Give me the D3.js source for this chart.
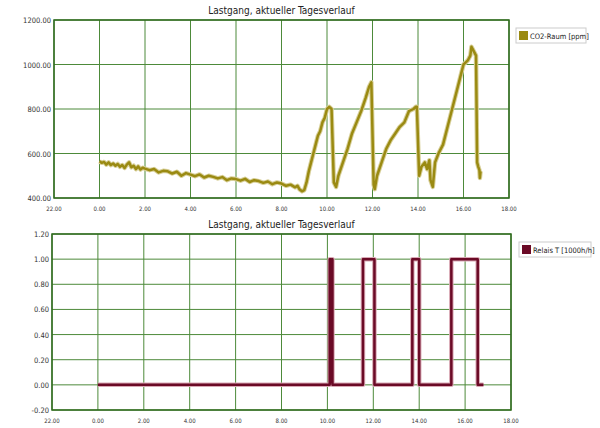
<!DOCTYPE html>
<html><head><meta charset="utf-8">
<script src="https://cdn.jsdelivr.net/npm/d3@7"></script>
<style>body{margin:0;background:#fff}text{font-family:"DejaVu Sans Condensed","Liberation Sans Narrow",sans-serif}</style>
</head><body><svg id="c" width="600" height="428"></svg>
<script>
const title = "Lastgang, aktueller Tagesverlauf";
const xTicks = [-2,0,2,4,6,8,10,12,14,16,18];
const xTickLabels = ["22.00","0.00","2.00","4.00","6.00","8.00","10.00","12.00","14.00","16.00","18.00"];
const co2Ticks = [400,600,800,1000,1200];
const relTicks = [-0.2,0,0.2,0.4,0.6,0.8,1.0,1.2];
const co2Name = "CO2-Raum [ppm]";
const relName = "Relais T [1000h/h]";
const co2Time = [0,0.1,0.2,0.3,0.4,0.5,0.6,0.7,0.8,0.9,1.0,1.1,1.2,1.3,1.4,1.5,1.6,1.7,1.8,1.9,2.0,2.2,2.4,2.6,2.8,3.0,3.2,3.4,3.6,3.8,4.0,4.2,4.4,4.6,4.8,5.0,5.2,5.4,5.6,5.8,6.0,6.2,6.4,6.6,6.8,7.0,7.2,7.4,7.6,7.8,8.0,8.2,8.4,8.6,8.7,8.8,8.9,9.0,9.1,9.2,9.3,9.4,9.5,9.6,9.7,9.8,9.9,10.0,10.1,10.2,10.3,10.4,10.5,10.7,10.9,11.1,11.3,11.5,11.7,11.85,11.95,12.05,12.1,12.2,12.4,12.6,12.8,13.0,13.2,13.4,13.6,13.8,13.9,13.95,14.05,14.15,14.3,14.4,14.5,14.55,14.65,14.75,14.9,15.1,15.3,15.5,15.7,15.9,16.0,16.1,16.2,16.3,16.35,16.45,16.55,16.6,16.65,16.7,16.72,16.75];
const co2Val = [565,558,562,550,560,548,555,545,553,540,548,535,550,560,538,545,530,542,528,536,532,525,530,515,522,520,510,518,500,512,505,498,506,492,500,495,488,494,480,488,485,478,486,472,480,476,468,474,462,470,465,455,460,448,455,438,430,435,470,520,560,600,640,680,700,740,760,800,810,800,470,450,500,560,620,690,740,790,850,900,920,460,440,500,560,620,660,690,720,740,790,800,810,810,500,540,560,530,570,480,450,560,600,640,720,800,880,960,1000,1010,1020,1040,1080,1060,1040,560,540,525,490,520];
const relTime = [0,10.1,10.1,10.15,10.17,10.2,10.22,10.22,11.55,11.55,12.05,12.05,13.7,13.7,14.0,14.0,15.4,15.4,16.55,16.55,16.8];
const relVal =  [0,0,1,1,0.02,1,1,0,0,1,1,0,0,1,1,0,0,1,1,0,0];

const svg = d3.select("#c");
function panel(cfg){
  const x = d3.scaleLinear().domain([-2,18]).range([cfg.l,cfg.r]);
  const y = d3.scaleLinear().domain(cfg.dom).range([cfg.b,cfg.t]);
  const g = svg.append("g");
  g.append("text").attr("x",(cfg.l+cfg.r)/2).attr("y",cfg.t-6).attr("text-anchor","middle").attr("font-size",10).attr("fill","#222").text(title);
  g.selectAll(".vx").data(xTicks).join("line").attr("x1",d=>x(d)).attr("x2",d=>x(d)).attr("y1",cfg.t).attr("y2",cfg.b).attr("stroke","#4d8a3a").attr("stroke-width",1);
  g.selectAll(".hy").data(cfg.ticks).join("line").attr("x1",cfg.l).attr("x2",cfg.r).attr("y1",d=>y(d)).attr("y2",d=>y(d)).attr("stroke","#4d8a3a").attr("stroke-width",1);
  g.append("rect").attr("x",cfg.l).attr("y",cfg.t).attr("width",cfg.r-cfg.l).attr("height",cfg.b-cfg.t).attr("fill","none").attr("stroke","#2f6a1e").attr("stroke-width",1.5);
  g.selectAll(".xl").data(xTicks).join("text").attr("x",d=>x(d)).attr("y",cfg.b+13).attr("text-anchor","middle").attr("font-size",6).attr("fill","#333").text((d,i)=>xTickLabels[i]);
  g.selectAll(".yl").data(cfg.ticks).join("text").attr("x",cfg.l-3).attr("y",d=>y(d)+3).attr("text-anchor","end").attr("font-size",7.5).attr("fill","#333").text(d=>d.toFixed(2));
  const line = d3.line().x(d=>x(d[0])).y(d=>y(d[1]));
  const pts = cfg.t2.map((t,i)=>[t,cfg.v[i]]);
  g.append("path").attr("d",line(pts)).attr("fill","none").attr("stroke",cfg.halo).attr("stroke-width",4.5).attr("stroke-linejoin","round");
  g.append("path").attr("d",line(pts)).attr("fill","none").attr("stroke",cfg.col).attr("stroke-width",2.5).attr("stroke-linejoin","round");
  g.append("rect").attr("x",cfg.lx).attr("y",cfg.t+8).attr("width",cfg.lw).attr("height",15).attr("fill","#fff").attr("stroke","#ccc");
  g.append("rect").attr("x",cfg.lx+3).attr("y",cfg.t+11).attr("width",9).attr("height",9).attr("fill",cfg.col);
  g.append("text").attr("x",cfg.lx+14).attr("y",cfg.t+19).attr("font-size",7.5).attr("fill","#222").text(cfg.name);
}
panel({l:54,r:509,t:20,b:198,dom:[400,1200],ticks:co2Ticks,t2:co2Time,v:co2Val,col:"#9a8a12",halo:"#d8d09a",name:co2Name,lx:516,lw:70});
panel({l:52,r:511,t:234,b:410,dom:[-0.2,1.2],ticks:relTicks,t2:relTime,v:relVal,col:"#6b0a26",halo:"#d9a8b4",name:relName,lx:519,lw:72});
</script></body></html>
